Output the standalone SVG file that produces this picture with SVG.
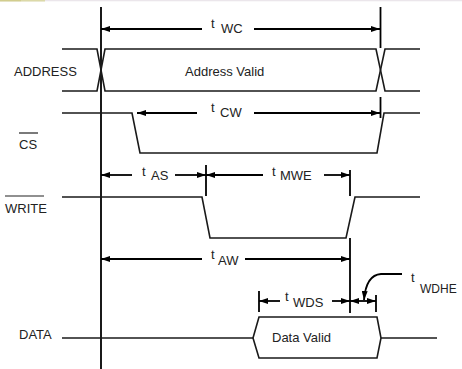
<svg xmlns="http://www.w3.org/2000/svg" width="462" height="369" viewBox="0 0 462 369">
<style>
.sig{fill:none;stroke:#1a1a1a;stroke-width:1.6;stroke-linejoin:miter}
.ref{fill:none;stroke:#000;stroke-width:1.8}
.arr{fill:none;stroke:#000;stroke-width:1.8}
.lbl{font-family:"Liberation Sans",Arial,sans-serif;font-size:13px;fill:#222}
</style>
<defs>
<marker id="ah" viewBox="0 0 9 6" refX="9" refY="3" markerWidth="9" markerHeight="6" markerUnits="userSpaceOnUse" orient="auto-start-reverse">
<path d="M0,0 L9,3 L0,6 z" fill="#000"/>
</marker>
</defs>
<rect x="0" y="0" width="462" height="1.3" fill="#ebe6eb"/>
<rect x="0" y="0" width="21" height="1.5" fill="#d2cd8e"/>
<rect x="21" y="0" width="24" height="1.5" fill="#dcd9a8"/>

<g id="reference-lines">
<line class="ref" x1="101" y1="7" x2="101" y2="369"/>
<line class="ref" x1="380.5" y1="7" x2="380.5" y2="48"/>
<line class="ref" x1="380.5" y1="97" x2="380.5" y2="118"/>
<line class="ref" x1="206" y1="165" x2="206" y2="196"/>
<line class="ref" x1="350" y1="170" x2="350" y2="196"/>
<line class="ref" x1="350" y1="238" x2="350" y2="313"/>
<line class="ref" x1="259" y1="291" x2="259" y2="312"/>
<line class="ref" x1="376" y1="295" x2="376" y2="312"/>
</g>

<g id="address">
<text class="lbl" x="14" y="76" font-size="14">ADDRESS</text>
<path class="sig" d="M62,49 H97 L105,91 H376 L385,49 H420"/>
<path class="sig" d="M62,91 H97 L105,49 H376 L385,91 H420"/>
<text class="lbl" x="185" y="76" font-size="13.5">Address Valid</text>
</g>

<g id="cs">
<text class="lbl" x="19" y="149" font-size="13.5">CS</text>
<line x1="19" y1="133" x2="38" y2="133" stroke="#222" stroke-width="1.2"/>
<path class="sig" d="M62,113 H132 L140,153 H377 L384,113 H420"/>
</g>

<g id="write">
<text class="lbl" x="5" y="213" font-size="13.5">WRITE</text>
<line x1="5" y1="196" x2="44" y2="196" stroke="#222" stroke-width="1.2"/>
<path class="sig" d="M62,197 H202 L210,238 H346 L355,197 H420"/>
</g>

<g id="data">
<text class="lbl" x="19" y="339" font-size="13.5">DATA</text>
<path class="sig" d="M62,338 H253"/>
<path class="sig" d="M253,338 L259,317 H377 L381,338 L377,358 H259 Z"/>
<path class="sig" d="M381,338 H437"/>
<text class="lbl" x="272" y="342" font-size="13.5">Data Valid</text>
</g>

<g id="connectors">
<line class="arr" x1="202" y1="29" x2="101" y2="29" marker-end="url(#ah)"/>
<line class="arr" x1="254" y1="29" x2="380" y2="29" marker-end="url(#ah)"/>
<line class="arr" x1="197" y1="113" x2="137" y2="113" marker-end="url(#ah)"/>
<line class="arr" x1="254" y1="113" x2="380" y2="113" marker-end="url(#ah)"/>
<line class="arr" x1="132" y1="175" x2="101" y2="175" marker-end="url(#ah)"/>
<line class="arr" x1="175" y1="175" x2="206" y2="175" marker-end="url(#ah)"/>
<line class="arr" x1="263" y1="175" x2="206" y2="175" marker-end="url(#ah)"/>
<line class="arr" x1="324" y1="175" x2="350" y2="175" marker-end="url(#ah)"/>
<line class="arr" x1="202" y1="259" x2="101" y2="259" marker-end="url(#ah)"/>
<line class="arr" x1="245" y1="259" x2="350" y2="259" marker-end="url(#ah)"/>
<line class="arr" x1="280" y1="301" x2="259" y2="301" marker-end="url(#ah)"/>
<line class="arr" x1="332" y1="301" x2="350" y2="301" marker-end="url(#ah)"/>
<line class="arr" x1="350" y1="301" x2="376" y2="301" marker-start="url(#ah)" marker-end="url(#ah)"/>
<path class="arr" d="M402,274 H381 Q366,275 364,300" marker-end="url(#ah)"/>
</g>

<g id="timing-labels">
<text class="lbl" x="211" y="28">t<tspan x="221" y="33">WC</tspan></text>
<text class="lbl" x="211" y="112">t<tspan x="220" y="117">CW</tspan></text>
<text class="lbl" x="142" y="176">t<tspan x="151" y="180">AS</tspan></text>
<text class="lbl" x="272" y="176">t<tspan x="280" y="180">MWE</tspan></text>
<text class="lbl" x="211" y="259">t<tspan x="218" y="265">AW</tspan></text>
<text class="lbl" x="285" y="301">t<tspan x="293" y="307">WDS</tspan></text>
<text class="lbl" x="411" y="282">t<tspan x="420" y="293" font-size="12">WDHE</tspan></text>
</g>
</svg>
